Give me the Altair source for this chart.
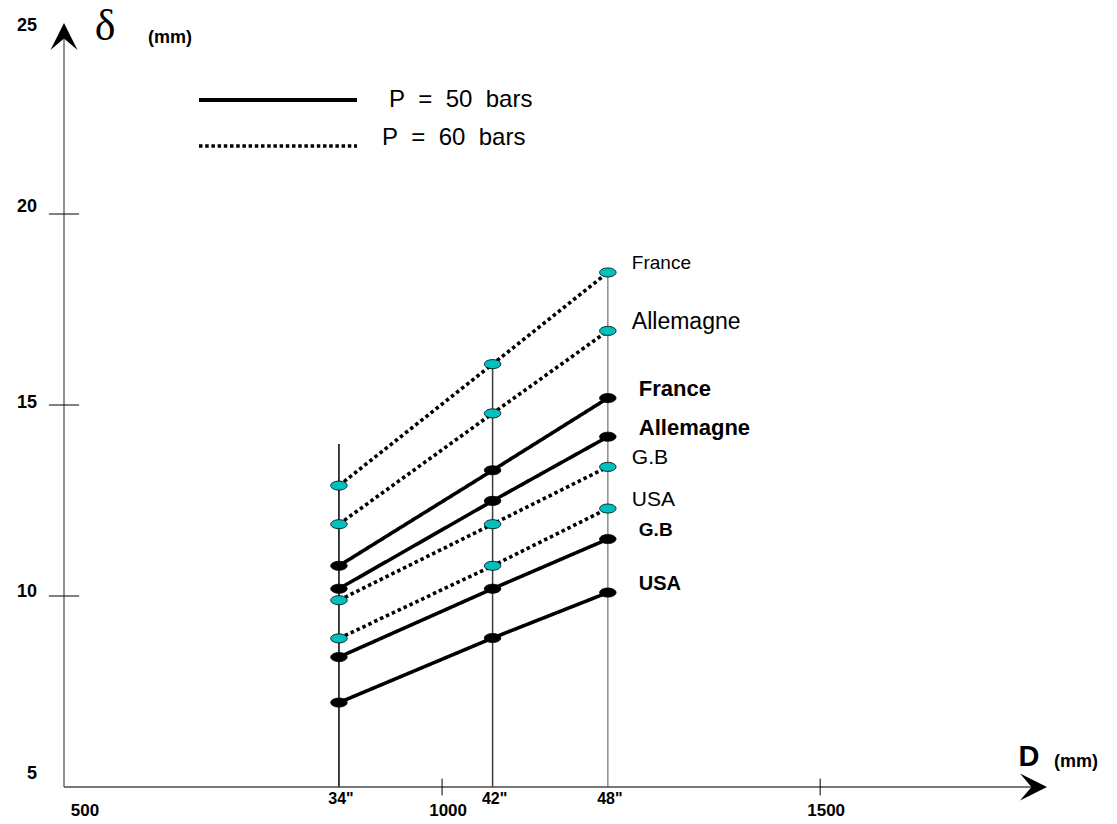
import altair as alt
import pandas as pd

# ---------------- data ----------------
diam_labels = ['34"', '42"', '48"']
diam_mm = [863.6, 1066.8, 1219.2]
countries = ["France", "Allemagne", "G.B", "USA"]
delta_50 = {
    "France":    [10.79, 13.29, 15.18],
    "Allemagne": [10.19, 12.49, 14.17],
    "G.B":       [8.40, 10.19, 11.49],
    "USA":       [7.21, 8.90, 10.09],
}
delta_60 = {
    "France":    [12.89, 16.07, 18.47],
    "Allemagne": [11.88, 14.78, 16.94],
    "G.B":       [9.89, 11.88, 13.38],
    "USA":       [8.89, 10.79, 12.29],
}
guide_tops = [13.98, 16.07, 18.47]
NB = "\u00a0"
legend_50 = f"P{NB}{NB}={NB}{NB}50{NB}{NB}bars"
legend_60 = f"P{NB}{NB}={NB}{NB}60{NB}{NB}bars"
x_ticks = [1000, 1500]
x_tick_text = ["1000", "1500"]
y_ticks = [10, 15, 20]
y_tick_labels = [5, 10, 15, 20, 25]
x_domain = [500, 1800]
y_domain = [5, 25]

# ---------------- styles ----------------
FONT = "Liberation Sans"
CYAN = "#00C0C0"
guide_colors = ["#000000", "#3c3c3c", "#8c8c8c"]
label_size = {(50, "France"): 22, (50, "Allemagne"): 22, (50, "G.B"): 19, (50, "USA"): 20,
              (60, "France"): 19, (60, "Allemagne"): 23, (60, "G.B"): 21, (60, "USA"): 21}
ytick_dy = {5: -13, 10: -4, 15: -2, 20: -7, 25: 3}
ELLIPSE = ("M1,0 C1,0.304 0.552,0.55 0,0.55 C-0.552,0.55 -1,0.304 -1,0 "
           "C-1,-0.304 -0.552,-0.55 0,-0.55 C0.552,-0.55 1,-0.304 1,0 Z")
ARROW_UP = "M0,0 L1,2 L0,1.15 L-1,2 Z"
ARROW_RIGHT = "M0,0 L-2,-1 L-1.15,0 L-2,1 Z"

xscale = alt.Scale(domain=x_domain, nice=False, zero=False)
yscale = alt.Scale(domain=y_domain, nice=False, zero=False)


def X(field=None, **kw):
    if field is None:
        return alt.X(scale=xscale, axis=None, **kw)
    return alt.X(field, type="quantitative", scale=xscale, axis=None, **kw)


def Y(field=None, **kw):
    if field is None:
        return alt.Y(scale=yscale, axis=None, **kw)
    return alt.Y(field, type="quantitative", scale=yscale, axis=None, **kw)


rows = []
for p, table in ((50, delta_50), (60, delta_60)):
    for c in countries:
        for lab, d, v in zip(diam_labels, diam_mm, table[c]):
            rows.append({"pressure": p, "country": c, "series": f"{c}-{p}",
                         "d": d, "delta": v, "dlabel": lab})
df = pd.DataFrame(rows)

ends = df[df["d"] == diam_mm[-1]].copy()
ends["fs"] = [label_size[(p, c)] for p, c in zip(ends["pressure"], ends["country"])]

guides = pd.DataFrame({"d": diam_mm, "top": guide_tops, "bottom": [y_domain[0]] * 3,
                       "col": guide_colors, "lab": diam_labels})
yt = pd.DataFrame({"y": y_ticks, "x1": [x_domain[0] - 20] * 3, "x2": [x_domain[0] + 20] * 3})
xt = pd.DataFrame({"x": x_ticks, "y1": [y_domain[0] - 0.22] * 2, "y2": [y_domain[0] + 0.22] * 2,
                   "t": x_tick_text})

one = alt.Data(values=[{}])

# guide verticals
guide_layer = alt.Chart(guides).mark_rule(strokeWidth=1.5).encode(
    x=X("d"), y=Y("top"), y2=alt.Y2("bottom"), color=alt.Color("col:N", scale=None))

# axes lines
yaxis = alt.Chart(one).mark_rule(color="#6e6e6e", strokeWidth=1.5).encode(
    x=X(datum=x_domain[0]), y=Y(datum=y_domain[0]), y2=alt.Y2(datum=y_domain[1] - 0.4))
xaxis = alt.Chart(one).mark_rule(color="#4a4a4a", strokeWidth=1.5).encode(
    x=X(datum=x_domain[0]), x2=alt.X2(datum=x_domain[1] - 15), y=Y(datum=y_domain[0]))
arrow_up = alt.Chart(one).mark_point(shape=ARROW_UP, size=729, filled=True, color="black", opacity=1).encode(
    x=X(datum=x_domain[0]), y=Y(datum=y_domain[1]))
arrow_right = alt.Chart(one).mark_point(shape=ARROW_RIGHT, size=729, filled=True, color="black", opacity=1).encode(
    x=X(datum=x_domain[1]), y=Y(datum=y_domain[0]))

ytick_layer = alt.Chart(yt).mark_rule(color="black", strokeWidth=1).encode(
    x=X("x1"), x2=alt.X2("x2"), y=Y("y"))
xtick_layer = alt.Chart(xt).mark_rule(color="black", strokeWidth=1).encode(
    x=X("x"), y=Y("y1"), y2=alt.Y2("y2"))

ytick_texts = [
    alt.Chart(one).mark_text(align="right", baseline="middle", dx=-27, dy=ytick_dy[v],
                             font=FONT, fontWeight="bold", fontSize=18).encode(
        x=X(datum=x_domain[0]), y=Y(datum=v), text=alt.value(str(v)))
    for v in y_tick_labels
]
xtick_text = alt.Chart(xt).mark_text(align="center", baseline="middle", dx=6, dy=24,
                                     font=FONT, fontWeight="bold", fontSize=17).encode(
    x=X("x"), y=Y(datum=y_domain[0]), text="t:N")
x500_text = alt.Chart(one).mark_text(align="center", baseline="middle", dx=21, dy=24,
                                     font=FONT, fontWeight="bold", fontSize=17).encode(
    x=X(datum=x_domain[0]), y=Y(datum=y_domain[0]), text=alt.value(str(x_domain[0])))
diam_text = alt.Chart(guides).mark_text(align="center", baseline="middle", dx=2, dy=12,
                                        font=FONT, fontWeight="bold", fontSize=16).encode(
    x=X("d"), y=Y("bottom"), text="lab:N")

# axis titles
delta_title = alt.Chart(one).mark_text(align="center", baseline="middle", dx=41, dy=4,
                                       font="Liberation Serif", fontSize=44).encode(
    x=X(datum=x_domain[0]), y=Y(datum=y_domain[1]), text=alt.value("δ"))
ymm_title = alt.Chart(one).mark_text(align="center", baseline="middle", dx=106, dy=15,
                                     font=FONT, fontWeight="bold", fontSize=18).encode(
    x=X(datum=x_domain[0]), y=Y(datum=y_domain[1]), text=alt.value("(mm)"))
d_title = alt.Chart(one).mark_text(align="center", baseline="middle", dx=-18, dy=-30,
                                   font=FONT, fontWeight="bold", fontSize=29).encode(
    x=X(datum=x_domain[1]), y=Y(datum=y_domain[0]), text=alt.value("D"))
xmm_title = alt.Chart(one).mark_text(align="center", baseline="middle", dx=29, dy=-25,
                                     font=FONT, fontWeight="bold", fontSize=18).encode(
    x=X(datum=x_domain[1]), y=Y(datum=y_domain[0]), text=alt.value("(mm)"))

# data lines
lines = alt.Chart(df).mark_line(color="black", strokeWidth=3.6, strokeCap="butt").encode(
    x=X("d"), y=Y("delta"), detail="series:N",
    strokeDash=alt.StrokeDash("pressure:N", scale=alt.Scale(domain=[50, 60], range=[[1, 0], [3.5, 3]]),
                              legend=None))
points = alt.Chart(df).mark_point(shape=ELLIPSE, size=272, filled=True, opacity=1,
                                  stroke="black", strokeWidth=0.8).encode(
    x=X("d"), y=Y("delta"),
    fill=alt.Fill("pressure:N", scale=alt.Scale(domain=[50, 60], range=["black", CYAN]), legend=None))

lab50 = alt.Chart(ends[ends["pressure"] == 50]).mark_text(
    align="left", baseline="middle", dx=31, dy=-9, font=FONT, fontWeight="bold").encode(
    x=X("d"), y=Y("delta"), text="country:N", size=alt.Size("fs:Q", scale=None, legend=None))
lab60 = alt.Chart(ends[ends["pressure"] == 60]).mark_text(
    align="left", baseline="middle", dx=24, dy=-9, font=FONT, fontWeight="normal").encode(
    x=X("d"), y=Y("delta"), text="country:N", size=alt.Size("fs:Q", scale=None, legend=None))

# legend (decoration, placed in plot pixels)
leg_solid = alt.Chart(one).mark_rule(color="black", strokeWidth=4).encode(
    x=alt.value(135), x2=alt.value(293), y=alt.value(77))
leg_dot = alt.Chart(one).mark_rule(color="black", strokeWidth=3.5, strokeDash=[3.5, 2.7], strokeCap="butt").encode(
    x=alt.value(135), x2=alt.value(293), y=alt.value(123))
leg_t50 = alt.Chart(one).mark_text(align="left", baseline="middle", font=FONT, fontSize=24).encode(
    x=alt.value(325), y=alt.value(77), text=alt.value(legend_50))
leg_t60 = alt.Chart(one).mark_text(align="left", baseline="middle", font=FONT, fontSize=24).encode(
    x=alt.value(318), y=alt.value(115), text=alt.value(legend_60))

chart = alt.layer(
    guide_layer, yaxis, xaxis, ytick_layer, xtick_layer, arrow_up, arrow_right,
    lines, points, lab50, lab60,
    *ytick_texts, xtick_text, x500_text, diam_text,
    delta_title, ymm_title, d_title, xmm_title,
    leg_solid, leg_dot, leg_t50, leg_t60,
).properties(
    width=983, height=764,
    padding={"left": 64, "top": 23, "right": 70, "bottom": 37},
    autosize=alt.AutoSizeParams(type="none"),
    background="white",
).configure_view(stroke=None)

chart.save("out.html", embed_options={"renderer": "svg", "actions": False})
